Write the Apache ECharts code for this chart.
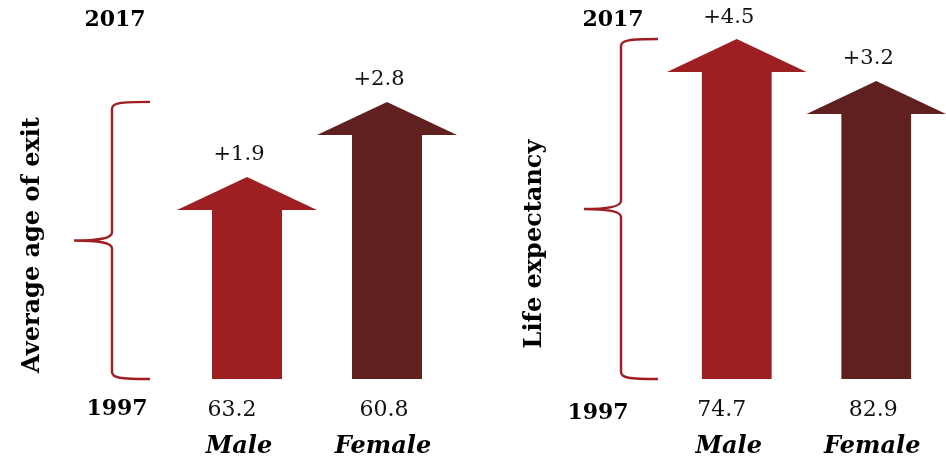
<!DOCTYPE html>
<html>
<head>
<meta charset="utf-8">
<script src="https://cdn.jsdelivr.net/npm/echarts@6/dist/echarts.min.js"></script>
<style>
html,body{margin:0;padding:0;background:#fff;}
#main{width:946px;height:462px;}
</style>
</head>
<body>
<div id="main"></div>
<script>
// ---- data ----
const categories = ['Male', 'Female'];
// Average age of exit
const exitBase1997 = ['63.2', '60.8'];
const exitChange = ['+1.9', '+2.8'];
const exitArrowLength = [57.9, 79.4];   // relative arrow length (% of panel height)
// Life expectancy
const lifeBase1997 = ['74.7', '82.9'];
const lifeChange = ['+4.5', '+3.2'];
const lifeArrowLength = [97.4, 85.4];   // relative arrow length (% of panel height)
const yearLabels = ['2017', '1997'];
const panelTitles = ['Average age of exit', 'Life expectancy'];

const colors = ['#9e1f21', '#612020'];
const braceColor = '#9e1f21';
const SERIF = '"DejaVu Serif", Georgia, serif';

function arrowSeries(idx, lengths, changes) {
  return {
    type: 'custom',
    xAxisIndex: idx, yAxisIndex: idx,
    data: lengths.map((v, i) => [i, v]),
    renderItem: function (params, api) {
      const i = api.value(0);
      const base = api.coord([i, 0]);
      const tip = api.coord([i, api.value(1)]);
      const band = api.size([1, 0])[0];
      const cx = base[0], hw = band / 2, sw = band / 4, headH = 33;
      const y0 = base[1], yt = tip[1], yh = yt + headH;
      return {
        type: 'group',
        children: [
          {
            type: 'polygon',
            shape: { points: [[cx - sw, y0], [cx - sw, yh], [cx - hw, yh], [cx, yt], [cx + hw, yh], [cx + sw, yh], [cx + sw, y0]] },
            style: { fill: colors[i] }
          },
          {
            type: 'text',
            x: cx - 8, y: yt - 22,
            style: { text: changes[i], fill: '#111', font: '21px ' + SERIF, align: 'center', verticalAlign: 'middle' }
          }
        ]
      };
    },
    z: 2
  };
}

function braceSeries(idx, lengths, offs) {
  const top = Math.max.apply(null, lengths);
  return {
    type: 'custom',
    xAxisIndex: idx, yAxisIndex: idx,
    data: [[0, top]],
    renderItem: function (params, api) {
      const b = api.coord([0, 0]);
      const t = api.coord([0, api.value(1)]);
      const band = api.size([1, 0])[0];
      const gl = b[0] - band / 2;
      const xe = gl + offs[0], xv = gl + offs[1], xm = gl + offs[2];
      const yb = b[1], yt = t[1], ym = (yb + yt) / 2;
      const d = [
        'M', xe, yt,
        'C', xv + 8, yt, xv, yt + 1, xv, yt + 7,
        'L', xv, ym - 8,
        'C', xv, ym - 2, xv - 14, ym, xm, ym,
        'C', xv - 14, ym, xv, ym + 2, xv, ym + 8,
        'L', xv, yb - 7,
        'C', xv, yb - 1, xv + 8, yb, xe, yb
      ].join(' ');
      return {
        type: 'path',
        shape: { pathData: d },
        style: { stroke: braceColor, lineWidth: 2.4, fill: null }
      };
    },
    z: 1
  };
}

function xAxis(idx, values) {
  return {
    type: 'category', gridIndex: idx, data: categories,
    axisLine: { show: false }, axisTick: { show: false },
    axisLabel: {
      margin: 13,
      formatter: function (val, i) {
        const s = i === 0 ? 'm' : 'f';
        return '{v' + s + '|' + values[i] + '}\n{c' + s + '|' + val + '}';
      },
      rich: {
        vm: { fontSize: 22, fontFamily: SERIF, color: '#111', lineHeight: 36, align: 'center', padding: [0, 30, 0, 0] },
        vf: { fontSize: 22, fontFamily: SERIF, color: '#111', lineHeight: 36, align: 'center', padding: [0, 6, 0, 0] },
        cm: { fontSize: 24, fontFamily: SERIF, fontWeight: 'bold', fontStyle: 'italic', color: '#000', lineHeight: 38, align: 'center', padding: [0, 16, 0, 0] },
        cf: { fontSize: 24, fontFamily: SERIF, fontWeight: 'bold', fontStyle: 'italic', color: '#000', lineHeight: 38, align: 'center', padding: [0, 8, 0, 0] }
      }
    }
  };
}
function yAxis(idx) {
  return { type: 'value', gridIndex: idx, min: 0, max: 100, show: false, splitLine: { show: false } };
}

const chart = echarts.init(document.getElementById('main'), null, { renderer: 'canvas' });
chart.setOption({
  backgroundColor: '#fff',
  animation: false,
  grid: [
    { left: 177, width: 280, top: 30, bottom: 83 },
    { left: 667, width: 279, top: 30, bottom: 83 }
  ],
  xAxis: [xAxis(0, exitBase1997), xAxis(1, lifeBase1997)],
  yAxis: [yAxis(0), yAxis(1)],
  graphic: [
    { type: 'text', x: 115, y: 20, style: { text: yearLabels[0], font: 'bold 22px ' + SERIF, fill: '#000', align: 'center', verticalAlign: 'middle' } },
    { type: 'text', x: 117, y: 409, style: { text: yearLabels[1], font: 'bold 22px ' + SERIF, fill: '#000', align: 'center', verticalAlign: 'middle' } },
    { type: 'text', x: 613, y: 20, style: { text: yearLabels[0], font: 'bold 22px ' + SERIF, fill: '#000', align: 'center', verticalAlign: 'middle' } },
    { type: 'text', x: 598, y: 413, style: { text: yearLabels[1], font: 'bold 22px ' + SERIF, fill: '#000', align: 'center', verticalAlign: 'middle' } },
    { type: 'text', x: 33, y: 245, rotation: Math.PI / 2, style: { text: panelTitles[0], font: 'bold 24px ' + SERIF, fill: '#000', align: 'center', verticalAlign: 'middle' } },
    { type: 'text', x: 535, y: 244, rotation: Math.PI / 2, style: { text: panelTitles[1], font: 'bold 24px ' + SERIF, fill: '#000', align: 'center', verticalAlign: 'middle' } }
  ],
  series: [
    braceSeries(0, exitArrowLength, [-27, -65, -103]),
    arrowSeries(0, exitArrowLength, exitChange),
    braceSeries(1, lifeArrowLength, [-9, -46, -83]),
    arrowSeries(1, lifeArrowLength, lifeChange)
  ]
});
</script>
</body>
</html>
